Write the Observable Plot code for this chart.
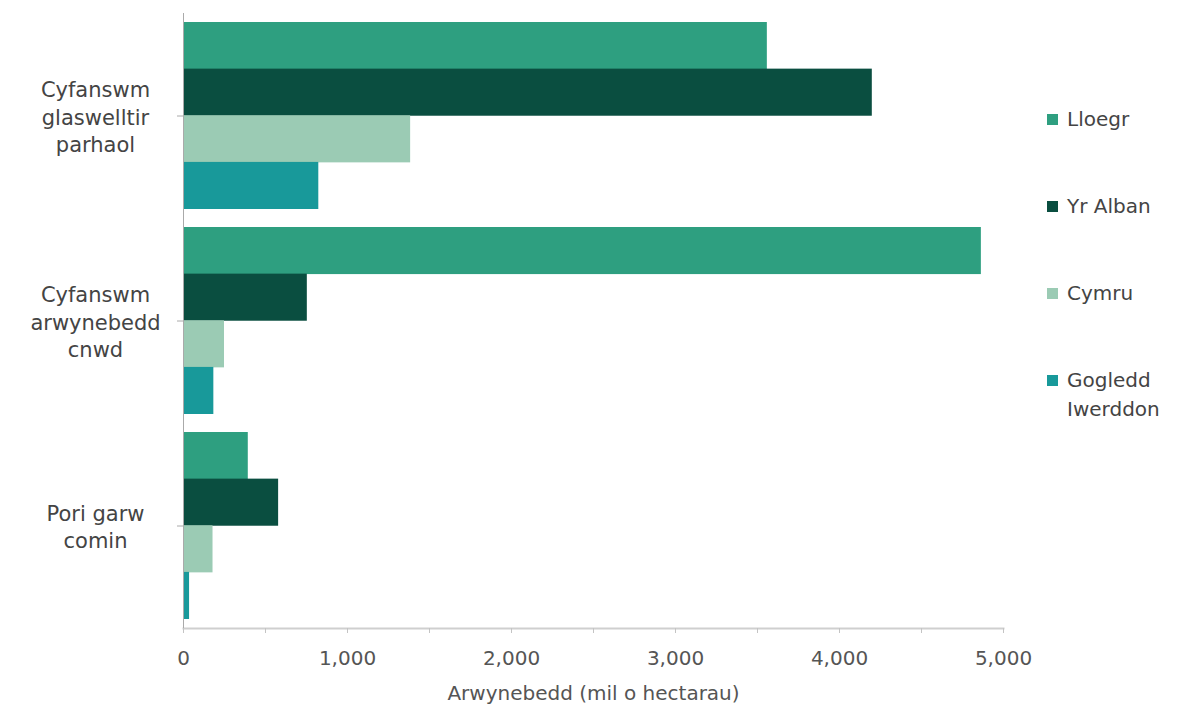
<!DOCTYPE html>
<html>
<head>
<meta charset="utf-8">
<script src="https://cdn.jsdelivr.net/npm/d3@7"></script>
<script src="https://cdn.jsdelivr.net/npm/@observablehq/plot@0.6"></script>
<style>
  html, body { margin: 0; padding: 0; background: #fff; }
  #wrap { position: relative; width: 1189px; height: 709px; font-family: "DejaVu Sans", sans-serif; }
  #chart { position: absolute; left: 0; top: 0; }
  #legend { position: absolute; left: 1047px; top: 105px; width: 130px; color: #444; font-size: 20px; }
  .item { display: flex; align-items: flex-start; line-height: 29px; margin-bottom: 58px; }
  .sw { flex: 0 0 11px; width: 11px; height: 11px; margin-top: 9px; margin-right: 9px; }
</style>
</head>
<body>
<div id="wrap"><div id="chart"></div><div id="legend"></div></div>
<script>
// ---- data ----
const categories = ["Cyfanswm glaswelltir parhaol", "Cyfanswm arwynebedd cnwd", "Pori garw comin"];
const categoryLabels = ["Cyfanswm\nglaswelltir\nparhaol", "Cyfanswm\narwynebedd\ncnwd", "Pori garw\ncomin"];
const countries = ["Lloegr", "Yr Alban", "Cymru", "Gogledd Iwerddon"];
const lloegr = [3560, 4865, 395];
const yrAlban = [4200, 755, 580];
const cymru = [1385, 250, 180];
const gogleddIwerddon = [825, 185, 37];
const xTicks = [0, 500, 1000, 1500, 2000, 2500, 3000, 3500, 4000, 4500, 5000];
const xLabel = "Arwynebedd (mil o hectarau)";
const colors = ["#2e9f80", "#0a4e40", "#9bcbb4", "#18999a"];

// ---- table ----
const series = [lloegr, yrAlban, cymru, gogleddIwerddon];
const rows = [];
countries.forEach((c, i) => categories.forEach((cat, j) => rows.push({country: c, category: cat, value: series[i][j]})));
const labelOf = new Map(categories.map((c, i) => [c, categoryLabels[i]]));

// ---- layout ----
const W = 1189, H = 709;
const mTop = 13, mBottom = 81, mLeft = 183, mRight = 186;
const padIn = 0.09, padOut = 0.045;
const step = (H - mTop - mBottom) / (categories.length - padIn + 2 * padOut);
const bw = step * (1 - padIn);
const q = bw / countries.length;

const bars = countries.map((c, i) =>
  Plot.barX(rows.filter(d => d.country === c), {
    x: "value", y: "category", fill: "country",
    insetTop: i * q, insetBottom: (countries.length - 1 - i) * q
  })
);

const chart = Plot.plot({
  width: W, height: H,
  marginTop: mTop, marginBottom: mBottom, marginLeft: mLeft, marginRight: mRight,
  style: {fontFamily: "DejaVu Sans, sans-serif", fontSize: "20px", background: "transparent"},
  x: {domain: [0, 5000]},
  y: {domain: categories, paddingInner: padIn, paddingOuter: padOut},
  color: {domain: countries, range: colors},
  marks: [
    ...bars,
    Plot.frame({anchor: "bottom", stroke: "#cfcfcf", strokeWidth: 2}),
    Plot.ruleX([0], {stroke: "#aaa", strokeWidth: 1}),
    Plot.axisX({
      ticks: xTicks, tickSize: 5, tickPadding: 17, stroke: "#c4c4c4", fill: "#555",
      tickFormat: d => d % 1000 === 0 ? d3.format(",")(d) : "",
      fontSize: 20,
      label: xLabel, labelAnchor: "center", labelArrow: "none", labelOffset: 71
    }),
    Plot.axisY({
      tickSize: 6, tickPadding: 82, textAnchor: "middle", stroke: "#aaa", fill: "#444",
      tickFormat: d => labelOf.get(d), fontSize: 21, lineHeight: 1.3, label: null
    })
  ]
});
document.getElementById("chart").appendChild(chart);

// ---- legend ----
const leg = d3.select("#legend");
countries.forEach((c, i) => {
  const it = leg.append("div").attr("class", "item");
  it.append("div").attr("class", "sw").style("background", colors[i]);
  it.append("div").text(c);
});
</script>
</body>
</html>
